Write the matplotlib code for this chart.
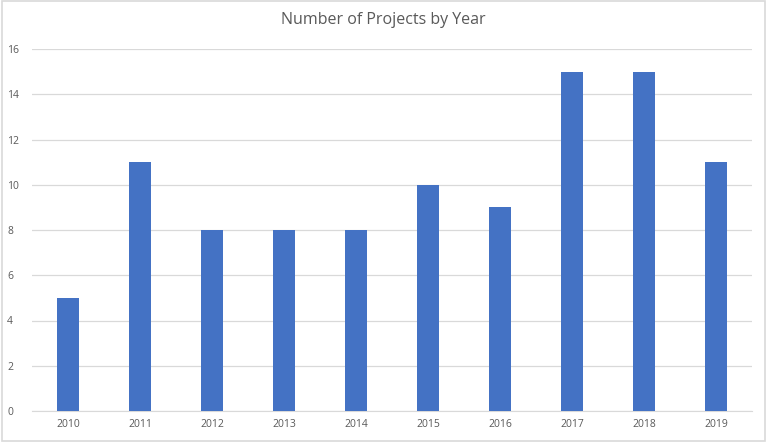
import matplotlib.pyplot as plt
from matplotlib.patches import Rectangle

# Chart data
years = ['2010', '2011', '2012', '2013', '2014', '2015', '2016', '2017', '2018', '2019']
projects = [5, 11, 8, 8, 8, 10, 9, 15, 15, 11]
y_ticks = [0, 2, 4, 6, 8, 10, 12, 14, 16]

plt.rcParams['font.family'] = ['Open Sans', 'DejaVu Sans']

fig = plt.figure(figsize=(7.67, 4.42), dpi=100)
ax = fig.add_axes([32 / 767, 31 / 442, 720 / 767, 362 / 442])

x = list(range(len(years)))
ax.bar(x, projects, width=0.31, color='#4472C4', zorder=3)

ax.set_xlim(-0.5, len(years) - 0.5)
ax.set_ylim(0, 16)
ax.set_xticks(x)
ax.set_xticklabels(years, fontsize=7.5, color='#595959')
ax.set_yticks(y_ticks)
ax.set_yticklabels([str(v) for v in y_ticks], fontsize=7.5, color='#595959')
ax.tick_params(axis='both', length=0, pad=6)
ax.tick_params(axis='y', pad=18)
for lbl in ax.get_yticklabels():
    lbl.set_horizontalalignment('left')

ax.grid(axis='y', color='#D9D9D9', linewidth=0.9, zorder=0)
for side in ['top', 'right', 'left']:
    ax.spines[side].set_visible(False)
ax.spines['bottom'].set_color('#D9D9D9')

fig.text(0.5, 1 - 20 / 442, 'Number of Projects by Year', ha='center', va='center',
         fontsize=11.5, color='#595959')

# light frame around the chart area
fig.patches.append(Rectangle((0.002, 0.003), 0.996, 0.994, transform=fig.transFigure,
                             fill=False, edgecolor='#D9D9D9', linewidth=1.2))

fig.savefig('out.png', dpi=100)
